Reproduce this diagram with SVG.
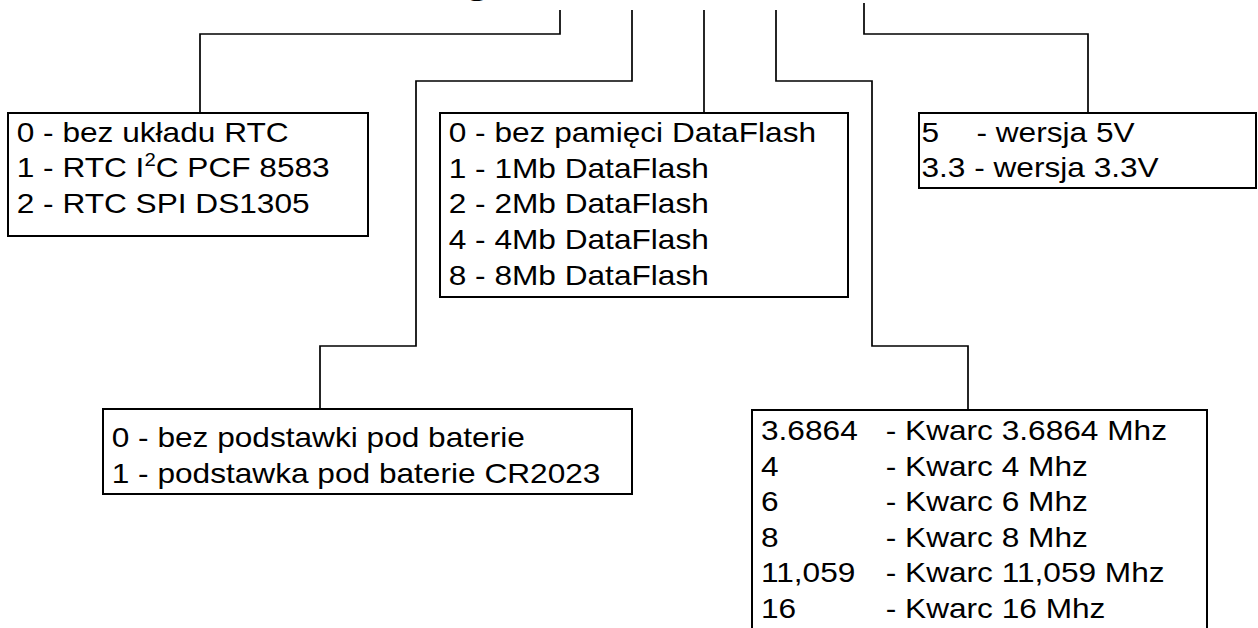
<svg xmlns="http://www.w3.org/2000/svg" width="1258" height="628" viewBox="0 0 1258 628">
<style>
.box{fill:#fff;stroke:#000;stroke-width:2}
.con{fill:none;stroke:#000;stroke-width:1.7}
.t{font-family:"Liberation Sans",Arial,sans-serif;font-size:28px;fill:#000}
.title{font-family:"Liberation Sans",Arial,sans-serif;font-size:36px;font-weight:bold;fill:#000}
</style>
<rect width="1258" height="628" fill="#fff"/>
<text class="title" transform="translate(464,-6) scale(1.2,1)">g</text>
<g id="connectors">
<polyline class="con" points="560,10 560,34 200,34 200,113"/>
<polyline class="con" points="632,10 632,81 416,81 416,346 320,346 320,409"/>
<polyline class="con" points="704,10 704,113"/>
<polyline class="con" points="776,10 776,81 872,81 872,346 968,346 968,410"/>
<polyline class="con" points="864,3 864,34 1088,34 1088,113"/>
</g>
<g id="rtc">
<rect class="box" x="8" y="113" width="360" height="123"/>
<text class="t" transform="translate(16.7,142) scale(1.13,1)">
<tspan x="0" y="0">0 - bez układu RTC</tspan>
<tspan x="0" y="35.5">1 - RTC I<tspan font-size="18" dy="-11">2</tspan><tspan dy="11">C PCF 8583</tspan></tspan>
<tspan x="0" y="71">2 - RTC SPI DS1305</tspan>
</text>
</g>
<g id="dataflash">
<rect class="box" x="440" y="113" width="408" height="184"/>
<text class="t" transform="translate(448.7,142) scale(1.13,1)">
<tspan x="0" y="0">0 - bez pamięci DataFlash</tspan>
<tspan x="0" y="35.7">1 - 1Mb DataFlash</tspan>
<tspan x="0" y="71.4">2 - 2Mb DataFlash</tspan>
<tspan x="0" y="107.1">4 - 4Mb DataFlash</tspan>
<tspan x="0" y="142.8">8 - 8Mb DataFlash</tspan>
</text>
</g>
<g id="voltage">
<rect class="box" x="919" y="113" width="337" height="75"/>
<text class="t" transform="translate(921.4,142) scale(1.13,1)">
<tspan x="0" y="0">5</tspan><tspan x="48.7" y="0">- wersja 5V</tspan>
<tspan x="0" y="35.5">3.3 - wersja 3.3V</tspan>
</text>
</g>
<g id="battery">
<rect class="box" x="103" y="409" width="529" height="85"/>
<text class="t" transform="translate(111.7,447) scale(1.13,1)">
<tspan x="0" y="0">0 - bez podstawki pod baterie</tspan>
<tspan x="0" y="36">1 - podstawka pod baterie CR2023</tspan>
</text>
</g>
<g id="crystal">
<path class="box" d="M752,640 V410 H1207 V640"/>
<text class="t" transform="translate(761,440) scale(1.13,1)">
<tspan x="0" y="0">3.6864</tspan><tspan x="110.4" y="0">- Kwarc 3.6864 Mhz</tspan>
<tspan x="0" y="35.6">4</tspan><tspan x="110.4" y="35.6">- Kwarc 4 Mhz</tspan>
<tspan x="0" y="71.2">6</tspan><tspan x="110.4" y="71.2">- Kwarc 6 Mhz</tspan>
<tspan x="0" y="106.8">8</tspan><tspan x="110.4" y="106.8">- Kwarc 8 Mhz</tspan>
<tspan x="0" y="142.4">11,059</tspan><tspan x="110.4" y="142.4">- Kwarc 11,059 Mhz</tspan>
<tspan x="0" y="178">16</tspan><tspan x="110.4" y="178">- Kwarc 16 Mhz</tspan>
</text>
</g>
</svg>
